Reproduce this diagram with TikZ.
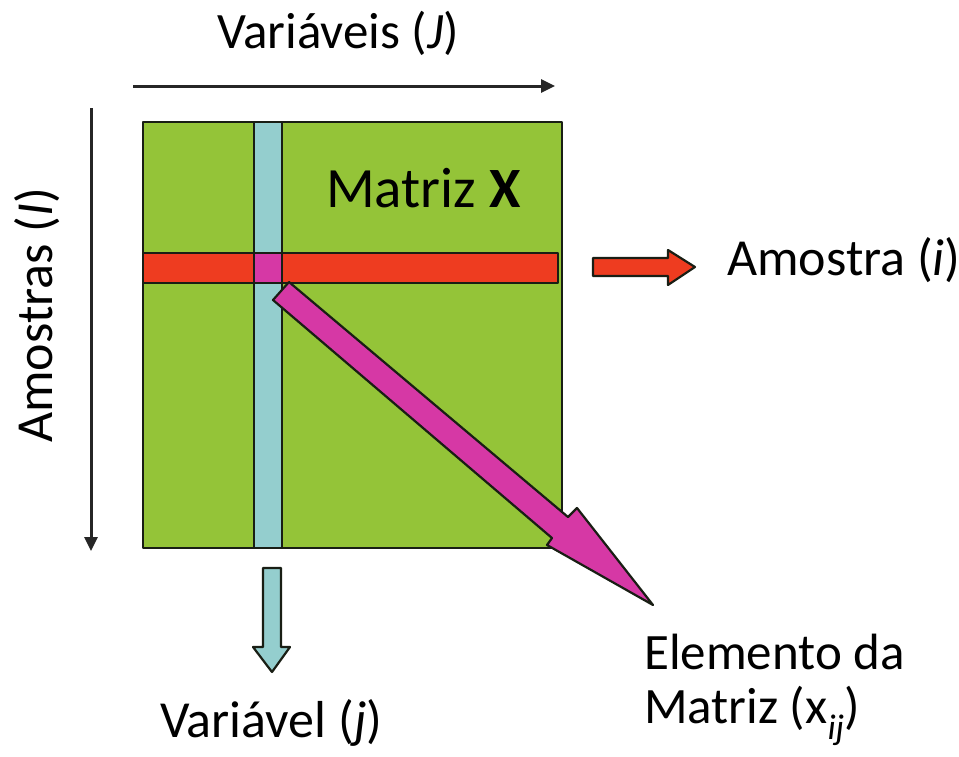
\documentclass[tikz,border=0pt]{standalone}
\usepackage{fontspec}
\setmainfont{Carlito}
\usetikzlibrary{arrows.meta}
\definecolor{matgreen}{RGB}{148,196,56}
\definecolor{colblue}{RGB}{148,206,206}
\definecolor{rowred}{RGB}{238,60,32}
\definecolor{elmag}{RGB}{214,56,165}
\definecolor{edge}{RGB}{25,30,20}
\tikzset{
  lbl/.style={inner sep=0pt, anchor=base west, font=\fontsize{51}{61}\selectfont},
  lblb/.style={lbl, font=\fontsize{52}{62}\selectfont},
  shapeedge/.style={draw=edge, line width=2.2pt, line join=round},
  axisarrow/.style={line width=3pt, draw=black!85, -{Triangle[length=14pt,width=13pt]}},
}
\begin{document}
\begin{tikzpicture}[x=1pt,y=-1pt]
\useasboundingbox (0,0) rectangle (959,756);
% matrix
\filldraw[shapeedge, fill=matgreen] (143,122) rectangle (562,548);
% column
\filldraw[shapeedge, fill=colblue] (254,122) rectangle (282,548);
% row
\filldraw[shapeedge, fill=rowred] (143,253) rectangle (558,283);
% element
\filldraw[shapeedge, fill=elmag] (254,253) rectangle (282,283);
% element arrow
\filldraw[shapeedge, fill=elmag] (289,282) -- (568,517) -- (577,508) -- (653,605) -- (547,545) -- (552,538) -- (273,300) -- cycle;
% row arrow
\filldraw[shapeedge, fill=rowred] (593,258) -- (668,258) -- (668,250) -- (695,267) -- (668,285) -- (668,276) -- (593,276) -- cycle;
% column arrow
\filldraw[shapeedge, fill=colblue] (263,568) -- (281,568) -- (281,647) -- (290,647) -- (272,672) -- (253,647) -- (263,647) -- cycle;
% axis arrows
\coordinate (ja) at (133,86);
\coordinate (jb) at (555,86);
\coordinate (ia) at (91,108);
\coordinate (ib) at (91,551);
\draw[axisarrow] (ja) -- (jb);
\draw[axisarrow] (ia) -- (ib);
% labels
\node[lbl] (vars) at (217,48) {Variáveis (\textit{J})};
\node[lbl, font=\fontsize{57}{68}\selectfont] (matx) at (326,207) {Matriz \textbf{X}};
\node[lblb] (amo) at (727,275) {Amostra (\textit{i})};
\node[lblb, rotate=90] (amos) at (52,443) {Amostras (\textit{I})};
\node[lblb] (var) at (160,737) {Variável (\textit{j})};
\node[lbl] (el1) at (644,669) {Elemento da};
\node[lbl] (el2) at (644,723) {Matriz (x\textsubscript{\itshape ij})};
\end{tikzpicture}
\end{document}
